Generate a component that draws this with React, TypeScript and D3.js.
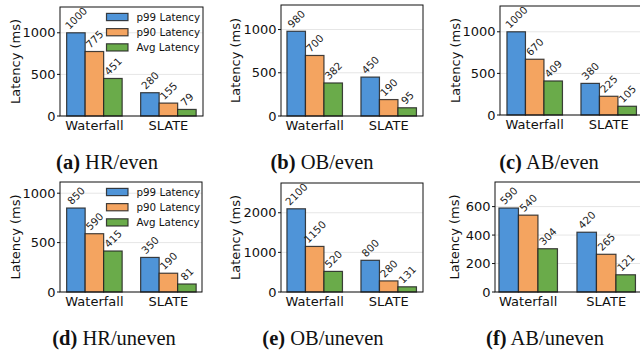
import React from 'react';
import * as d3 from 'd3';

const categories = ['Waterfall', 'SLATE'];
const seriesNames = ['p99 Latency', 'p90 Latency', 'Avg Latency'];
const seriesColors = ['#4f94d8', '#f4a460', '#6aab4a'];

const hrEvenWaterfall = [1000, 775, 451];
const hrEvenSlate = [280, 155, 79];
const obEvenWaterfall = [980, 700, 382];
const obEvenSlate = [450, 190, 95];
const abEvenWaterfall = [1000, 670, 409];
const abEvenSlate = [380, 225, 105];
const hrUnevenWaterfall = [850, 590, 415];
const hrUnevenSlate = [350, 190, 81];
const obUnevenWaterfall = [2100, 1150, 520];
const obUnevenSlate = [800, 280, 131];
const abUnevenWaterfall = [590, 540, 304];
const abUnevenSlate = [420, 265, 121];

const panelLetters = ['a', 'b', 'c', 'd', 'e', 'f'];
const panelNames = ['HR/even', 'OB/even', 'AB/even', 'HR/uneven', 'OB/uneven', 'AB/uneven'];
const yTicksEven = [0, 500, 1000];
const yTicksObUneven = [0, 1000, 2000];
const yTicksAbUneven = [0, 200, 400, 600];

const panelData = [
  [hrEvenWaterfall, hrEvenSlate],
  [obEvenWaterfall, obEvenSlate],
  [abEvenWaterfall, abEvenSlate],
  [hrUnevenWaterfall, hrUnevenSlate],
  [obUnevenWaterfall, obUnevenSlate],
  [abUnevenWaterfall, abUnevenSlate],
];
const panelTicks = [yTicksEven, yTicksEven, yTicksEven, yTicksEven, yTicksObUneven, yTicksAbUneven];

// frame box, first-group centre (c0) and category spacing (u) in px
const layout = [
  { l: 60, t: 7, r: 203, b: 116, c0: 94.4, u: 74, ylx: 15, cx: 107, cy: 169, legend: true },
  { l: 281, t: 5, r: 423, b: 116, c0: 314.7, u: 74, ylx: 235, cx: 322, cy: 169, legend: false },
  { l: 500, t: 6, r: 643, b: 115, c0: 534.7, u: 74, ylx: 455, cx: 549, cy: 169, legend: false },
  { l: 60, t: 182, r: 202, b: 292, c0: 94.4, u: 74, ylx: 15, cx: 114, cy: 345, legend: true },
  { l: 281, t: 183, r: 423, b: 292, c0: 314.7, u: 74, ylx: 235, cx: 323, cy: 345, legend: false },
  { l: 495, t: 182, r: 643, b: 292, c0: 528.2, u: 78, ylx: 454, cx: 545, cy: 345, legend: false },
];

const FONT = 'DejaVu Sans, sans-serif';
const SERIF = 'Liberation Serif, Times New Roman, serif';
const BW = 0.25;
const AX_FS = 13;

function Panel({ idx }: { idx: number }) {
  const L = layout[idx];
  const data = panelData[idx];
  const ticks = panelTicks[idx];
  const maxV = d3.max(data.flat()) as number;
  const y = d3.scaleLinear().domain([0, maxV * 1.31]).range([L.b, L.t]);
  const x = d3.scaleLinear().domain([0, 1]).range([L.c0, L.c0 + L.u]);
  const labelFs = 10.3;
  return (
    <g>
      {ticks.map((t) => (
        <line key={'g' + t} x1={L.l} x2={L.r} y1={y(t)} y2={y(t)} stroke="#e6e6e6" strokeWidth={1} />
      ))}
      {categories.map((c, ci) =>
        data[ci].map((v, si) => {
          const x0 = x(ci + (si - 1) * BW - BW / 2);
          const x1 = x(ci + (si - 1) * BW + BW / 2);
          return (
            <rect key={c + si} x={x0} y={y(v)} width={x1 - x0} height={y(0) - y(v)}
              fill={seriesColors[si]} stroke="#222" strokeOpacity={0.85} strokeWidth={1.2} />
          );
        })
      )}
      {categories.map((c, ci) =>
        data[ci].map((v, si) => {
          const cxp = x(ci + (si - 1) * BW);
          const s = String(v);
          const Lw = s.length * 0.636 * labelFs;
          const H = labelFs * 1.1;
          const ext = (Lw + H) / Math.SQRT2;
          const cyp = y(v) - 1.5 - ext / 2;
          return (
            <text key={'l' + c + si} x={0} y={0} transform={`translate(${cxp},${cyp}) rotate(-45)`}
              textAnchor="middle" dominantBaseline="central" fontFamily={FONT} fontSize={labelFs} fill="#1a1a1a">
              {s}
            </text>
          );
        })
      )}
      <rect x={L.l} y={L.t} width={L.r - L.l} height={L.b - L.t} fill="none" stroke="#111" strokeWidth={1} />
      {ticks.map((t) => (
        <g key={'t' + t}>
          <line x1={L.l - 3} x2={L.l} y1={y(t)} y2={y(t)} stroke="#111" strokeWidth={1} />
          <text x={L.l - 4.5} y={y(t)} textAnchor="end" dominantBaseline="central" fontFamily={FONT} fontSize={AX_FS} fill="#111">
            {t}
          </text>
        </g>
      ))}
      {categories.map((c, ci) => (
        <text key={'x' + c} x={x(ci)} y={L.b + 13.5} textAnchor="middle" fontFamily={FONT} fontSize={AX_FS} fill="#111">
          {c}
        </text>
      ))}
      <text transform={`translate(${L.ylx},${(L.t + L.b) / 2}) rotate(-90)`} textAnchor="middle"
        dominantBaseline="central" fontFamily={FONT} fontSize={AX_FS} fill="#111">
        Latency (ms)
      </text>
      {L.legend &&
        seriesNames.map((n, si) => {
          const ry = L.t + 10 + si * 15.2;
          return (
            <g key={'lg' + si}>
              <rect x={L.l + 46.5} y={ry - 3.6} width={21.5} height={7.2} fill={seriesColors[si]}
                stroke="#222" strokeOpacity={0.85} strokeWidth={1.2} />
              <text x={L.l + 76.5} y={ry} dominantBaseline="central" fontFamily={FONT} fontSize={10.3} fill="#111">
                {n}
              </text>
            </g>
          );
        })}
      <text x={L.cx} y={L.cy} textAnchor="middle" fontFamily={SERIF} fontSize={20.5} fill="#111">
        <tspan fontWeight="bold">({panelLetters[idx]})</tspan>
        <tspan> {panelNames[idx]}</tspan>
      </text>
    </g>
  );
}

export default function App() {
  return (
    <div style={{ position: 'fixed', left: 0, top: 0, width: 640, height: 351, background: '#fff' }}>
      <svg width={640} height={351} viewBox="0 0 640 351" style={{ display: 'block' }}>
        <rect x={0} y={0} width={640} height={351} fill="#fff" />
        {panelData.map((_, i) => (
          <Panel key={i} idx={i} />
        ))}
      </svg>
    </div>
  );
}
